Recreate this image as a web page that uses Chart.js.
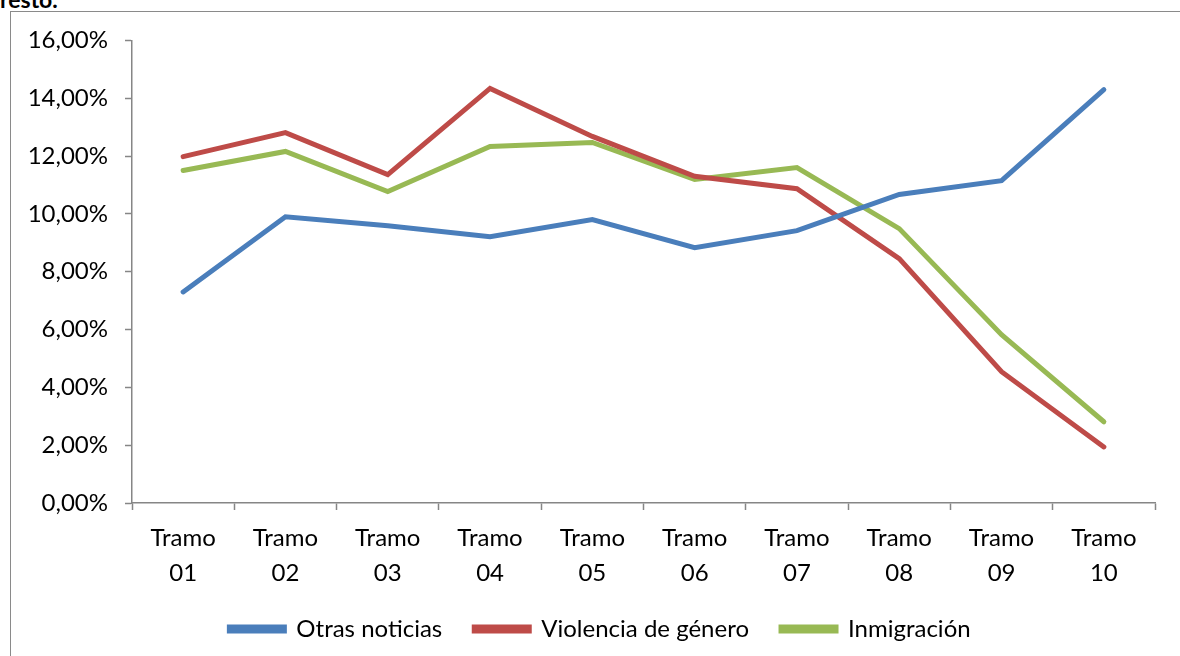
<!DOCTYPE html>
<html>
<head>
    <title>Tramos</title>
    <script src="https://cdn.jsdelivr.net/npm/chart.js"></script>
    <style>
        body { margin: 0; background: #fff; width: 1180px; height: 656px; overflow: hidden; position: relative; font-family: Lato, sans-serif; }
        #titulo { position: absolute; left: 0; top: -15px; font-weight: bold; font-size: 23px; color: #000; }
        #marco { position: absolute; left: 10px; top: 11px; width: 1200px; height: 700px; border-top: 1px solid #8a8a8a; border-left: 1px solid #8a8a8a; }
        #chart-container { position: absolute; left: 11px; top: 9px; width: 1169px; height: 644px; }
    </style>
</head>
<body>
    <div id="titulo">resto.</div>
    <div id="marco"></div>
    <div id="chart-container">
        <canvas id="chartTramos"></canvas>
    </div>

    <script>
    // datos (en %)
    const tramos = [['Tramo', '01'], ['Tramo', '02'], ['Tramo', '03'], ['Tramo', '04'], ['Tramo', '05'],
                    ['Tramo', '06'], ['Tramo', '07'], ['Tramo', '08'], ['Tramo', '09'], ['Tramo', '10']];
    const otrasNoticias = [7.30, 9.90, 9.59, 9.21, 9.80, 8.83, 9.42, 10.67, 11.15, 14.30];
    const violenciaGenero = [11.98, 12.81, 11.36, 14.34, 12.68, 11.30, 10.87, 8.45, 4.54, 1.94];
    const inmigracion = [11.50, 12.16, 10.77, 12.33, 12.47, 11.19, 11.60, 9.49, 5.82, 2.81];

    const ejeColor = '#868686';

    function serie(label, data, color) {
        return {
            label: label,
            data: data,
            borderColor: color,
            backgroundColor: color,
            borderWidth: 5,
            pointRadius: 0,
            pointHoverRadius: 0,
            tension: 0,
            borderCapStyle: 'round'
        };
    }

    // mueve la leyenda un poco a la derecha (centrada en el marco, no en el area)
    const moverLeyenda = {
        id: 'moverLeyenda',
        afterLayout: function(chart) {
            if (chart.legend) {
                chart.legend.left += 17;
                chart.legend.right += 17;
            }
        }
    };

    const ctx = document.getElementById('chartTramos').getContext('2d');
    window.lineChart = new Chart(ctx, {
        type: 'line',
        data: {
            labels: tramos,
            datasets: [
                serie('Otras noticias', otrasNoticias, '#4a7ebb'),
                serie('Violencia de género', violenciaGenero, '#be4b48'),
                serie('Inmigración', inmigracion, '#98b954')
            ]
        },
        plugins: [moverLeyenda],
        options: {
            responsive: true,
            maintainAspectRatio: false,
            animation: false,
            layout: { padding: { top: 23, right: 25, bottom: 2, left: 0 } },
            plugins: {
                tooltip: { enabled: false },
                legend: {
                    position: 'bottom',
                    labels: {
                        boxWidth: 55,
                        boxHeight: 4,
                        padding: 32,
                        color: '#000',
                        font: { family: 'Lato', size: 24 }
                    }
                }
            },
            scales: {
                x: {
                    offset: true,
                    grid: { display: true, drawOnChartArea: false, offset: true, color: ejeColor, tickLength: 7, tickWidth: 1.5 },
                    border: { color: ejeColor, width: 1.5 },
                    ticks: { color: '#000', padding: 11, maxRotation: 0, autoSkip: false, font: { family: 'Lato', size: 24, lineHeight: 1.45 } },
                    afterFit: function(scale) { scale.height = 82; }
                },
                y: {
                    min: 0,
                    max: 16,
                    grid: { display: true, drawOnChartArea: false, color: ejeColor, tickLength: 7, tickWidth: 1.5 },
                    border: { color: ejeColor, width: 1.5 },
                    ticks: {
                        stepSize: 2,
                        color: '#000',
                        padding: 17,
                        font: { family: 'Lato', size: 24 },
                        callback: function(value) { return value.toFixed(2).replace('.', ',') + '%'; }
                    },
                    afterFit: function(scale) { scale.width = 121; }
                }
            }
        }
    });
    </script>
</body>
</html>
